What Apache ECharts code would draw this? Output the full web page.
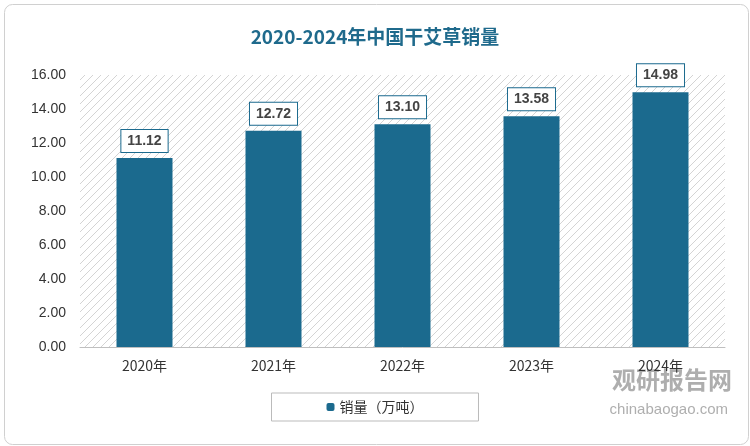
<!DOCTYPE html>
<html><head><meta charset="utf-8">
<script src="https://cdn.jsdelivr.net/npm/echarts@6/dist/echarts.min.js"></script>
<style>html,body{margin:0;padding:0;background:#fff}#c{width:750px;height:446px}</style>
</head><body><div id="c"></div>
<script>
const categories = ['2020年','2021年','2022年','2023年','2024年'];
const sales = [11.12, 12.72, 13.10, 13.58, 14.98];
const yTicks = [0,2,4,6,8,10,12,14,16];

const pc = document.createElement('canvas');
pc.width = 8; pc.height = 8;
const g = pc.getContext('2d');
g.fillStyle = '#ffffff'; g.fillRect(0,0,8,8);
g.strokeStyle = '#d4d4d4'; g.lineWidth = 1;
g.beginPath(); g.moveTo(0,8); g.lineTo(8,0); g.moveTo(-4,4); g.lineTo(4,-4); g.moveTo(4,12); g.lineTo(12,4); g.stroke();

const chart = echarts.init(document.getElementById('c'));
chart.setOption({
  backgroundColor: '#fff',
  title: { text: '2020-2024年中国干艾草销量', left: 'center', top: 22,
    textStyle: { color: '#1f6a8c', fontSize: 19, fontWeight: 'bold', fontFamily: 'Noto Sans CJK SC' } },
  grid: { left: 80, right: 25, top: 75, bottom: 99, show: true, borderWidth: 0,
    backgroundColor: { image: pc, repeat: 'repeat' } },
  legend: { bottom: 25, left: 'center', data: ['销量（万吨）'], itemWidth: 8, itemHeight: 8,
    textStyle: { fontSize: 14, color: '#333', fontFamily: 'Noto Sans CJK SC' },
    borderColor: '#bbb', borderWidth: 1, padding: [7, 55] },
  xAxis: { type: 'category', data: categories,
    axisLine: { lineStyle: { color: '#bfbfbf' } }, axisTick: { show: false },
    axisLabel: { color: '#333', fontSize: 14, margin: 12, fontFamily: 'Noto Sans CJK SC' } },
  yAxis: { type: 'value', min: 0, max: 16, interval: 2,
    splitLine: { show: false }, axisLine: { show: false },
    axisLabel: { color: '#333', fontSize: 14, margin: 14, formatter: v => yTicks.includes(v) ? v.toFixed(2) : '' } },
  series: [{ name: '销量（万吨）', type: 'bar', data: sales, barWidth: 56,
    itemStyle: { color: '#1b6a8e' },
    label: { show: true, position: 'top', distance: 6, formatter: p => p.value.toFixed(2),
      color: '#444', fontSize: 14, fontWeight: 'bold', backgroundColor: '#fff',
      borderColor: '#1b6a8e', borderWidth: 1, padding: [4, 6] } }],
  graphic: [
    { type: 'rect', left: 2, top: 2, shape: { width: 744, height: 440, r: 8 },
      style: { fill: 'none', stroke: '#d0d0d0', lineWidth: 1 }, z: -1 },
    { type: 'text', right: 18, top: 368, style: { text: '观研报告网', fontSize: 24, fontWeight: 'bold', fill: 'rgba(120,120,120,0.6)', fontFamily: 'Noto Sans CJK SC' } },
    { type: 'text', right: 22, top: 402, style: { text: 'chinabaogao.com', fontSize: 15, fill: 'rgba(120,120,120,0.6)' } }
  ]
});
</script></body></html>
